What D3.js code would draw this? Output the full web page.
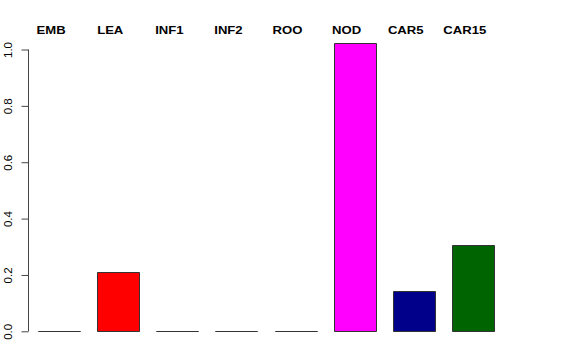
<!DOCTYPE html>
<html>
<head>
<meta charset="utf-8">
<script src="https://cdn.jsdelivr.net/npm/d3@7"></script>
<style>
body { margin: 0; background: #fff; }
svg { display: block; }
</style>
</head>
<body>
<svg id="chart" width="576" height="360"></svg>
<script>
const categories = ["EMB", "LEA", "INF1", "INF2", "ROO", "NOD", "CAR5", "CAR15"];
const values = [0, 0.210, 0, 0, 0, 1.024, 0.142, 0.306];
const barColors = ["#FFA500", "#FF0000", "#00FF00", "#00FFFF", "#A52A2A", "#FF00FF", "#00008B", "#006400"];
const yTicks = [0, 0.2, 0.4, 0.6, 0.8, 1.0];

const svg = d3.select("#chart");

const x = d3.scaleBand()
  .domain(categories)
  .range([29.6, 502.4])
  .paddingInner(0.29)
  .paddingOuter(0.145);

const y = d3.scaleLinear()
  .domain([0, 1])
  .range([331.3, 49.5]);

// bars (paths so zero-height bars still show as a line)
svg.append("g").selectAll("path")
  .data(categories)
  .join("path")
  .attr("d", (c, i) => {
    const x0 = Math.round(x(c)) + 0.5, x1 = Math.round(x(c) + x.bandwidth()) + 0.5;
    const y0 = Math.round(y(0)) + 0.5, y1 = Math.round(y(values[i])) + 0.5;
    return `M${x0},${y0}L${x0},${y1}L${x1},${y1}L${x1},${y0}Z`;
  })
  .attr("fill", (c, i) => barColors[i])
  .attr("stroke", "#333")
  .attr("stroke-width", 1);

// y axis
const yAxis = d3.axisLeft(y)
  .tickValues(yTicks)
  .tickFormat(d3.format(".1f"))
  .tickSize(7)
  .tickPadding(0);

const gy = svg.append("g")
  .attr("transform", "translate(28.5,0)")
  .call(yAxis);
gy.select(".domain").attr("stroke", "#444").attr("d", `M0,${y(1)}V${y(0)}`);
gy.selectAll(".tick line").attr("stroke", "#444");
gy.selectAll(".tick text")
  .attr("x", null).attr("dy", null)
  .attr("transform", "translate(-16.5,0) rotate(-90)")
  .attr("text-anchor", "middle")
  .attr("font-family", "Liberation Sans, Arial, sans-serif")
  .attr("font-size", 11.5)
  .attr("fill", "#000");

// top labels
svg.append("g").selectAll("text")
  .data(categories)
  .join("text")
  .attr("x", c => x(c) + x.bandwidth() / 2 - 8)
  .attr("y", 34)
  .attr("text-anchor", "middle")
  .attr("font-family", "Liberation Sans, Arial, sans-serif")
  .attr("font-weight", "bold")
  .attr("font-size", 11.5)
  .attr("transform", c => { const cx = x(c) + x.bandwidth() / 2 - 8; return `translate(${cx},0) scale(1.14,1) translate(${-cx},0)`; })
  .text(c => c);
</script>
</body>
</html>
